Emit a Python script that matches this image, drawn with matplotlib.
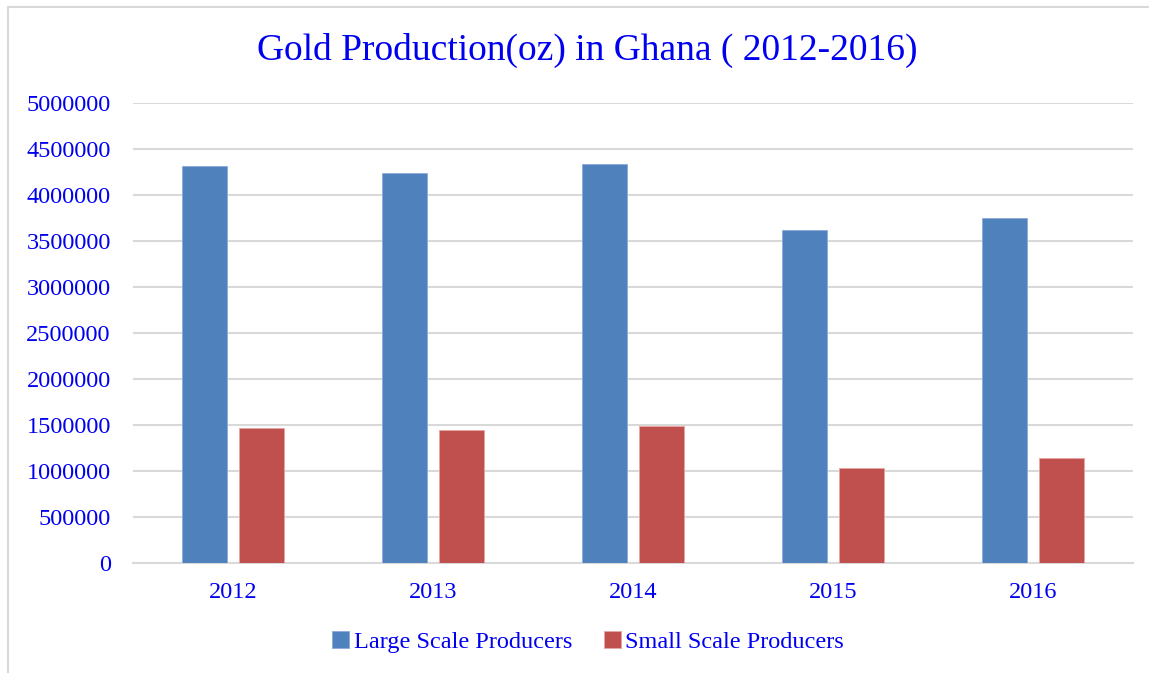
import numpy as np
import matplotlib
matplotlib.use("Agg")
import matplotlib.pyplot as plt
from matplotlib.patches import Rectangle

years = ["2012", "2013", "2014", "2015", "2016"]
large_scale = [4310000, 4240000, 4340000, 3620000, 3755000]
small_scale = [1467000, 1446000, 1489000, 1030000, 1138000]

blue = "#4F81BD"
red = "#C0504D"
text_col = "#0000F0"
grid_col = "#D9D9D9"

plt.rcParams["font.family"] = ["Liberation Serif", "DejaVu Serif"]

fig = plt.figure(figsize=(11.49, 6.73), dpi=100)
W, H = 1149, 673

# outer chart frame (partly cut off like the screenshot)
fig.patches.append(Rectangle((8 / W, -0.1), 1.2, 1 - 7 / H + 0.1, transform=fig.transFigure,
                             fill=False, edgecolor=grid_col, linewidth=1.5))

ax = fig.add_axes([133 / W, 1 - 563 / H, (1133 - 133) / W, (563 - 103) / H])
x = np.arange(len(years))
w = 0.225
off = 0.1425
ax.bar(x - off, large_scale, w, color=blue, edgecolor="#8EAADB", linewidth=0.6,
       label="Large Scale Producers", zorder=3)
ax.bar(x + off, small_scale, w, color=red, edgecolor="#E6A5A3", linewidth=0.6,
       label="Small Scale Producers", zorder=3)

ax.set_xlim(-0.5, 4.5)
ax.set_ylim(0, 5000000)
ax.set_yticks(np.arange(0, 5000001, 500000))
ax.yaxis.set_major_formatter(matplotlib.ticker.FuncFormatter(lambda v, p: f"{int(v)}"))
ax.set_xticks(x)
ax.set_xticklabels(years)
ax.tick_params(axis="both", length=0, labelsize=17.5, labelcolor=text_col)
ax.tick_params(axis="y", pad=16)
ax.tick_params(axis="x", pad=14)
ax.grid(axis="y", color=grid_col, linewidth=1.5, zorder=0)
for s in ["top", "right", "left"]:
    ax.spines[s].set_visible(False)
ax.spines["bottom"].set_color(grid_col)
ax.spines["bottom"].set_linewidth(1.5)

fig.text(587 / W, 1 - 50 / H, "Gold Production(oz) in Ghana ( 2012-2016)",
         ha="center", va="center", fontsize=27, color=text_col)

leg = fig.legend(loc="center", bbox_to_anchor=(588 / W, 1 - 642 / H), ncol=2, frameon=False,
                 fontsize=17.5, handlelength=0.7, handleheight=0.7, handletextpad=0.2,
                 columnspacing=1.3)
for t in leg.get_texts():
    t.set_color(text_col)

fig.savefig("out.png", dpi=100)
